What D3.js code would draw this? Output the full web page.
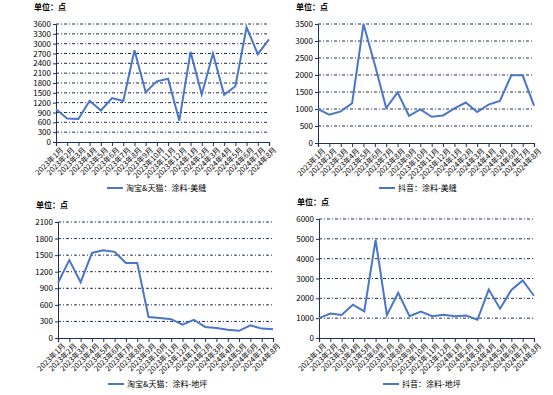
<!DOCTYPE html>
<html>
<head>
<meta charset="utf-8">
<script src="https://cdn.jsdelivr.net/npm/d3@7"></script>
<style>
  body { margin: 0; background: #fff; }
  svg text { font-family: "Noto Sans CJK SC", "DejaVu Sans", sans-serif; fill: #000; }
</style>
</head>
<body>
<div id="chart"></div>
<script>
// months shared by all four panels
var months = ["2023年1月","2023年2月","2023年3月","2023年4月","2023年5月","2023年6月","2023年7月","2023年8月","2023年9月","2023年10月",
              "2023年11月","2023年12月","2024年1月","2024年2月","2024年3月","2024年4月","2024年5月","2024年6月","2024年7月","2024年8月"];

var tbMeifeng = [1000,720,700,1260,960,1340,1250,2800,1520,1850,1930,650,2750,1450,2700,1440,1700,3500,2680,3130];
var dyMeifeng = [1000,830,930,1170,3500,2300,1030,1490,800,990,770,810,1020,1190,910,1130,1240,1990,1990,1100];
var tbDiping  = [1000,1410,1010,1540,1590,1560,1360,1360,380,360,340,240,330,200,180,150,130,230,170,160];
var dyDiping  = [1000,1230,1160,1680,1340,4950,1160,2280,1100,1330,1100,1170,1100,1130,920,2440,1480,2420,2900,2130];

var ticksA = d3.range(0, 3601, 300);
var ticksB = d3.range(0, 3501, 500);
var ticksC = d3.range(0, 2101, 300);
var ticksD = d3.range(0, 6001, 1000);

var svg = d3.select("#chart").append("svg")
    .attr("width", 553)
    .attr("height", 395);

// one panel: unit label, dotted grid, axes, line, legend
function panel(opt) {
  var g = svg.append("g");
  var x = d3.scalePoint().domain(months).range([opt.left, opt.right]);
  var y = d3.scaleLinear().domain([0, d3.max(opt.ticks)]).range([opt.bottom, opt.top]);

  g.append("text")
    .attr("x", opt.left - 22)
    .attr("y", opt.top - 14)
    .style("font-size", "8px")
    .style("font-weight", "bold")
    .text("单位：点");

  // grid
  g.selectAll(".grid").data(opt.ticks.slice(1)).enter().append("line")
    .attr("x1", opt.left).attr("x2", opt.right)
    .attr("y1", function (d) { return y(d); })
    .attr("y2", function (d) { return y(d); })
    .attr("stroke", "#1f2f5c")
    .attr("stroke-width", 1)
    .attr("stroke-dasharray", "3,2,1,2");

  var yAxis = g.append("g")
    .attr("transform", "translate(" + opt.left + ",0)")
    .call(d3.axisLeft(y).tickValues(opt.ticks).tickSize(3).tickPadding(2).tickFormat(d3.format("d")));
  yAxis.selectAll("text").style("font-size", "8px");

  var xAxis = g.append("g")
    .attr("transform", "translate(0," + opt.bottom + ")")
    .call(d3.axisBottom(x).tickSize(4).tickPadding(2));
  xAxis.selectAll("text")
    .style("font-size", "7.5px")
    .style("text-anchor", "end")
    .attr("dx", "-0.1em")
    .attr("dy", "0.7em")
    .attr("transform", "rotate(-45)");

  g.selectAll(".domain, .tick line").attr("stroke", "#1f2f5c");
  xAxis.select(".domain").attr("stroke-width", 1.2);

  var line = d3.line()
    .x(function (d, i) { return x(months[i]); })
    .y(function (d) { return y(d); });

  g.append("path")
    .attr("d", line(opt.values))
    .attr("fill", "none")
    .attr("stroke", "#4a76c9")
    .attr("stroke-width", 2);

  // legend
  g.append("line")
    .attr("x1", opt.legendX).attr("x2", opt.legendX + 16)
    .attr("y1", opt.legendY).attr("y2", opt.legendY)
    .attr("stroke", "#4a76c9")
    .attr("stroke-width", 2);
  g.append("text")
    .attr("x", opt.legendX + 19)
    .attr("y", opt.legendY + 3)
    .style("font-size", "8px")
    .text(opt.name);
}

panel({values: tbMeifeng, ticks: ticksA, left: 56, right: 269, top: 24, bottom: 142,
       legendX: 107, legendY: 188, name: "淘宝&天猫：涂料-美缝"});
panel({values: dyMeifeng, ticks: ticksB, left: 318, right: 534, top: 24, bottom: 143,
       legendX: 379, legendY: 188, name: "抖音：涂料-美缝"});
panel({values: tbDiping, ticks: ticksC, left: 58, right: 273, top: 222, bottom: 338,
       legendX: 108, legendY: 384, name: "淘宝&天猫：涂料-地坪"});
panel({values: dyDiping, ticks: ticksD, left: 319, right: 534, top: 219, bottom: 338,
       legendX: 383, legendY: 384, name: "抖音：涂料-地坪"});
</script>
</body>
</html>
